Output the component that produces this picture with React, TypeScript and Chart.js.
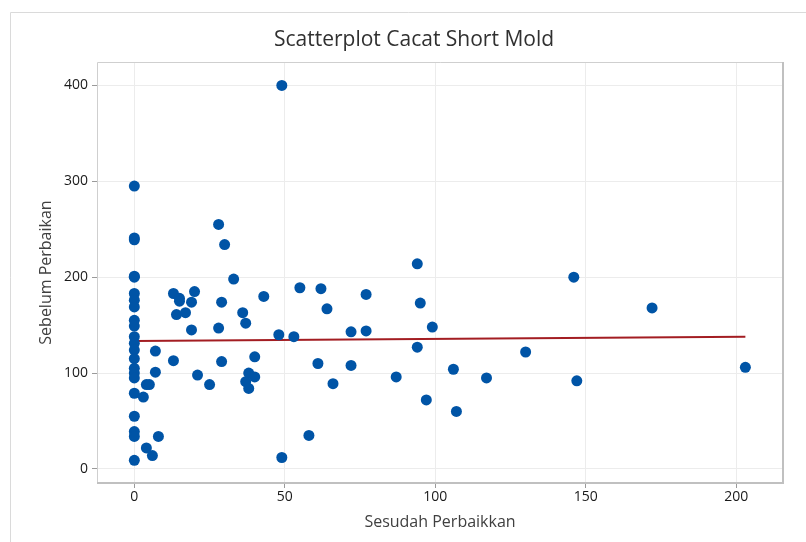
import React, { useEffect, useRef } from 'react';
import { Chart, registerables } from 'chart.js';

Chart.register(...registerables);

const titleText = 'Scatterplot Cacat Short Mold';
const xTitle = 'Sesudah Perbaikkan';
const yTitle = 'Sebelum Perbaikan';

// Sesudah Perbaikkan (x) and Sebelum Perbaikan (y)
const sesudah = [
  0, 0, 0, 0, 0, 0, 0, 0, 0, 0, 0, 0, 0, 0, 0, 0, 0, 0, 0, 0, 0, 0,
  49, 28, 30, 33, 13, 20, 15, 15, 19, 29, 43, 17, 14, 36, 37, 19, 28, 48,
  7, 13, 29, 40, 7, 21, 38, 40, 37, 38, 25, 4, 5, 3, 8, 4, 6, 49,
  55, 62, 77, 64, 95, 53, 72, 77, 99, 94, 61, 72, 106, 87, 117, 66, 97, 107, 58,
  130, 94, 146, 172, 147, 203,
];
const sebelum = [
  295, 241, 239, 201, 200, 183, 176, 169, 155, 149, 138, 131, 124, 115, 105, 100, 95, 79, 55, 39, 34, 9,
  400, 255, 234, 198, 183, 185, 178, 175, 174, 174, 180, 163, 161, 163, 152, 145, 147, 140,
  123, 113, 112, 117, 101, 98, 100, 96, 91, 84, 88, 88, 88, 75, 34, 22, 14, 12,
  189, 188, 182, 167, 173, 138, 143, 144, 148, 127, 110, 108, 104, 96, 95, 89, 72, 60, 35,
  122, 214, 200, 168, 92, 106,
];

// fitted regression line end points
const fitX = [0, 203];
const fitY = [133.5, 138];

const xTicks = [0, 50, 100, 150, 200];
const yTicks = [0, 100, 200, 300, 400];

const FONT = '"Open Sans", "Noto Sans", sans-serif';

const framePlugin = {
  id: 'frameAndTitle',
  beforeDraw(chart: any) {
    const ctx = chart.ctx;
    ctx.save();
    ctx.fillStyle = '#ffffff';
    ctx.fillRect(0, 0, chart.width, chart.height);
    ctx.strokeStyle = '#dadada';
    ctx.lineWidth = 1;
    ctx.beginPath();
    ctx.moveTo(10.5, chart.height);
    ctx.lineTo(10.5, 12.5);
    ctx.lineTo(chart.width, 12.5);
    ctx.stroke();
    ctx.fillStyle = '#303030';
    ctx.font = `21px ${FONT}`;
    ctx.textAlign = 'center';
    ctx.textBaseline = 'middle';
    ctx.fillText(titleText, 414, 40);
    ctx.restore();
  },
  beforeDatasetsDraw(chart: any) {
    const { ctx, chartArea: a } = chart;
    ctx.save();
    ctx.strokeStyle = '#cfcfcf';
    ctx.lineWidth = 1;
    ctx.beginPath();
    ctx.moveTo(a.left + 0.5, a.bottom);
    ctx.lineTo(a.left + 0.5, a.top + 0.5);
    ctx.lineTo(a.right, a.top + 0.5);
    ctx.stroke();
    ctx.strokeStyle = '#c0c0c0';
    ctx.lineWidth = 2;
    ctx.beginPath();
    ctx.moveTo(a.right, a.top);
    ctx.lineTo(a.right, a.bottom);
    ctx.lineTo(a.left, a.bottom);
    ctx.stroke();
    ctx.restore();
  },
};

export default function App() {
  const ref = useRef<HTMLCanvasElement>(null);
  useEffect(() => {
    if (!ref.current) return;
    const points = sesudah.map((x, i) => ({ x, y: sebelum[i] }));
    const fit = fitX.map((x, i) => ({ x, y: fitY[i] }));
    const chart = new Chart(ref.current, {
      type: 'scatter',
      data: {
        datasets: [
          {
            data: points,
            backgroundColor: '#0054A6',
            borderWidth: 0,
            pointRadius: 5.5,
            pointHoverRadius: 5.5,
          },
          {
            type: 'line',
            data: fit,
            borderColor: '#A31D22',
            borderWidth: 2,
            pointRadius: 0,
            showLine: true,
            fill: false,
          } as any,
        ],
      },
      options: {
        animation: false,
        responsive: false,
        events: [],
        layout: { padding: { left: 0, right: 23, top: 62, bottom: 0 } },
        plugins: { legend: { display: false }, tooltip: { enabled: false }, title: { display: false } },
        scales: {
          x: {
            type: 'linear',
            min: -12.4,
            max: 215.5,
            afterBuildTicks: (s: any) => { s.ticks = xTicks.map((v) => ({ value: v })); },
            afterFit: (s: any) => { s.height = 59; },
            grid: { color: '#ececec', tickColor: '#9a9a9a', tickLength: 5, lineWidth: 1 },
            border: { display: false },
            ticks: { color: '#1a1a1a', font: { family: FONT, size: 14 }, padding: 1, maxRotation: 0 },
            title: { display: true, text: xTitle, color: '#404040', font: { family: FONT, size: 16 }, padding: { top: 0, bottom: 10 } },
          },
          y: {
            type: 'linear',
            min: -14.6,
            max: 424.4,
            afterBuildTicks: (s: any) => { s.ticks = yTicks.map((v) => ({ value: v })); },
            afterFit: (s: any) => { s.width = 97; },
            grid: { color: '#ececec', tickColor: '#9a9a9a', tickLength: 5, lineWidth: 1 },
            border: { display: false },
            ticks: { color: '#1a1a1a', font: { family: FONT, size: 14 }, padding: 4 },
            title: { display: true, text: yTitle, color: '#404040', font: { family: FONT, size: 16 }, padding: { top: 37, bottom: 0 } },
          },
        },
      },
      plugins: [framePlugin],
    });
    return () => chart.destroy();
  }, []);
  return (
    <div style={{ position: 'fixed', left: 0, top: 0, width: 806, height: 542, background: '#fff' }}>
      <canvas ref={ref} width={806} height={542} style={{ display: 'block', width: 806, height: 542 }} />
    </div>
  );
}
